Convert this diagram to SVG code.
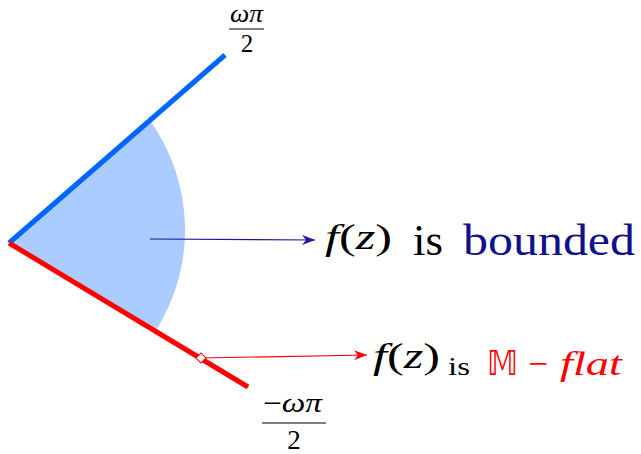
<svg xmlns="http://www.w3.org/2000/svg" width="641" height="454" viewBox="0 0 641 454">
<defs>
<marker id="ahB" markerWidth="14" markerHeight="10" refX="13" refY="5" orient="auto" markerUnits="userSpaceOnUse">
<path d="M0,0 L13,5 L0,10 L4,5 Z" fill="#1a1a99"/>
</marker>
<marker id="ahR" markerWidth="14" markerHeight="10" refX="13" refY="5" orient="auto" markerUnits="userSpaceOnUse">
<path d="M0,0 L13,5 L0,10 L4,5 Z" fill="#ff0000"/>
</marker>
</defs>
<rect width="641" height="454" fill="#ffffff"/>
<g id="sector">
<path d="M9,243 L150,120.5 A188,188 0 0 1 155.4,331.2 Z" fill="#aaccff"/>
</g>
<g id="rays">
<line x1="9" y1="243" x2="225" y2="55" stroke="#0066ff" stroke-width="5"/>
<line x1="9" y1="243" x2="248" y2="387" stroke="#ff0000" stroke-width="5"/>
</g>
<g id="connectors">
<line x1="150" y1="239" x2="315" y2="240" stroke="#1a1a99" stroke-width="1.2" marker-end="url(#ahB)"/>
<line x1="201" y1="358" x2="367" y2="355" stroke="#ff0000" stroke-width="1.2" marker-end="url(#ahR)"/>
<rect x="197.5" y="354.5" width="7" height="7" fill="#ffffff" stroke="#ff0000" stroke-width="1" transform="rotate(45 201 358)"/>
</g>
<g id="label-top" font-family="Liberation Serif, serif">
<text x="246.5" y="22" font-size="25" font-style="italic" text-anchor="middle" textLength="33" lengthAdjust="spacingAndGlyphs">ωπ</text>
<line x1="229" y1="29" x2="264" y2="29" stroke="#000" stroke-width="1.2"/>
<text x="247" y="52" font-size="25" text-anchor="middle">2</text>
</g>
<g id="label-bottom" font-family="Liberation Serif, serif">
<text x="263" y="412" font-size="27" textLength="59" lengthAdjust="spacingAndGlyphs">−<tspan font-style="italic">ωπ</tspan></text>
<line x1="262" y1="423" x2="326" y2="423" stroke="#000" stroke-width="1.2"/>
<text x="294" y="449" font-size="27" text-anchor="middle">2</text>
</g>
<g id="text-bounded" font-family="Liberation Serif, serif">
<text x="325" y="249" font-size="36" textLength="67" lengthAdjust="spacingAndGlyphs"><tspan font-style="italic">f</tspan>(<tspan font-style="italic">z</tspan>)</text>
<text x="413" y="255" font-size="44" textLength="30" lengthAdjust="spacingAndGlyphs">is</text>
<text x="463" y="255" font-size="44" fill="#10108a" textLength="172" lengthAdjust="spacingAndGlyphs">bounded</text>
</g>
<g id="text-flat" font-family="Liberation Serif, serif">
<text x="373" y="368" font-size="36" textLength="67" lengthAdjust="spacingAndGlyphs"><tspan font-style="italic">f</tspan>(<tspan font-style="italic">z</tspan>)</text>
<text x="448" y="375" font-size="26" textLength="22" lengthAdjust="spacingAndGlyphs">is</text>
<text x="487" y="375" font-size="34" fill="#ff0000" textLength="31" lengthAdjust="spacingAndGlyphs" font-family="DejaVu Sans, sans-serif">𝕄</text>
<text x="528" y="375" font-size="34" fill="#ff0000" textLength="20" lengthAdjust="spacingAndGlyphs">−</text>
<text x="560" y="375" font-size="34" fill="#ff0000" font-style="italic" textLength="62" lengthAdjust="spacingAndGlyphs">flat</text>
</g>
</svg>
